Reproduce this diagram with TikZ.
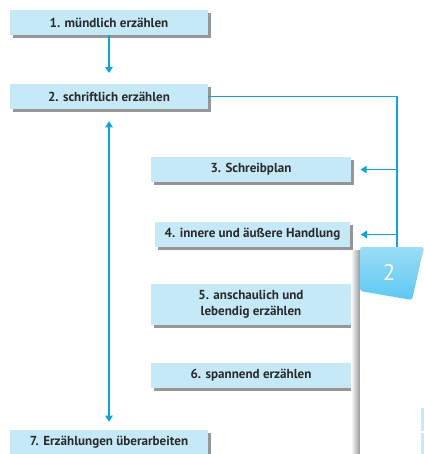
\documentclass[tikz,border=0pt]{standalone}
\usepackage{fontspec}
\setmainfont{PT Sans}
\usetikzlibrary{arrows.meta, shadows}
\definecolor{boxblue}{HTML}{C6E9F8}
\definecolor{linecyan}{HTML}{0AA4E4}
\definecolor{tabtop}{HTML}{9ADDF6}
\definecolor{tabbottom}{HTML}{5CC8F2}
\definecolor{textgray}{HTML}{2B2B2B}
\tikzset{
  stage/.style={fill=boxblue, text=textgray, font=\fontsize{9.8}{12}\selectfont\bfseries,
    minimum width=148.5pt, minimum height=18.75pt, inner sep=0pt, align=center,
    drop shadow={shadow xshift=2pt, shadow yshift=-2pt, fill=black!75, opacity=0.55}},
  flow/.style={draw=linecyan, line width=1.2pt, -{Triangle[width=5.5pt, length=4.5pt]}},
  link/.style={draw=linecyan, line width=1.2pt}
}
\begin{document}
\begin{tikzpicture}[x=0.75pt, y=-0.75pt]
  \useasboundingbox (0,0) rectangle (424,454);
  % Stages
  \node[stage] (s1) at (109,22.5) {1. mündlich erzählen};
  \node[stage] (s2) at (109,96.5) {2. schriftlich erzählen};
  \node[stage, minimum width=150pt] (s3) at (251,169.5) {3. Schreibplan};
  \node[stage, minimum width=146pt] (s4) at (252.5,234.5) {4. innere und äußere Handlung};
  \node[stage, minimum width=150pt, minimum height=30.75pt] (s5) at (251,304.5) {5. anschaulich und\\lebendig erzählen};
  \node[stage, minimum width=150pt] (s6) at (251,375.5) {6. spannend erzählen};
  \node[stage] (s7) at (109,442.5) {7. Erzählungen überarbeiten};
  % Arrows
  \draw[flow, shorten >=8pt] (s1.south) -- (s2.north);
  \draw[flow, {Triangle[width=5.5pt, length=4.5pt]}-{Triangle[width=5.5pt, length=4.5pt]},
    shorten <=9pt, shorten >=6pt] (s2.south) -- (s7.north);
  \coordinate (branch) at (397,96.5);
  \coordinate (branchend) at (397,250);
  \draw[link] (s2.east) -- (branch) -- (branchend);
  \draw[flow, shorten >=7pt] (branch |- s3.east) -- (s3.east);
  \draw[flow, shorten >=8pt] (branch |- s4.east) -- (s4.east);
  % Page
  \shade[left color=white, right color=black!40] (351,250) rectangle (360,454);
  \fill[white] (360,250) rectangle (424,454);
  \shade[top color=tabtop, bottom color=tabbottom, rounded corners=2pt]
    (360,247) -- (424,247) -- (412,300) -- (360,291) -- cycle;
  \node[text=white, font=\fontsize{17}{17}\selectfont] (tab) at (389,272) {2};
  \fill[boxblue] (421,408) rectangle (424,431);
  \fill[boxblue] (421,433) rectangle (424,454);
\end{tikzpicture}
\end{document}
